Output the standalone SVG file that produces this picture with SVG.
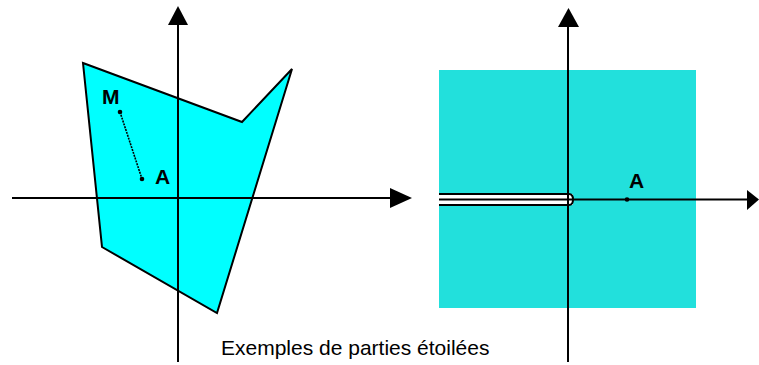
<svg xmlns="http://www.w3.org/2000/svg" width="759" height="365" viewBox="0 0 759 365">
<style>
.ax{stroke:#000;stroke-width:2;fill:none}
.arr{fill:#000}
.lbl{font-family:"Liberation Sans",Arial,sans-serif;font-weight:bold;font-size:21px;fill:#000}
.cap{font-family:"Liberation Sans",Arial,sans-serif;font-size:21px;fill:#000}
.pt{fill:#000}
</style>
<rect width="759" height="365" fill="#fff"/>
<g id="fig-left">
<polygon points="83,63 242,122 292,69 217,313 102,247" fill="#00ffff" stroke="#000" stroke-width="2" stroke-linejoin="miter"/>
<g class="connectors">
<line class="ax" x1="12" y1="198" x2="392" y2="198"/>
<line class="ax" x1="178" y1="23" x2="178" y2="362"/>
<polygon class="arr" points="390,188 412,198 390,208"/>
<polygon class="arr" points="168,25 178,6 188,25"/>
<line x1="120" y1="112" x2="142" y2="179" stroke="#000" stroke-width="1.6" stroke-dasharray="2,1"/>
</g>
<circle class="pt" cx="120" cy="112" r="2.3"/>
<circle class="pt" cx="142" cy="179" r="2.3"/>
<text class="lbl" x="102" y="104">M</text>
<text class="lbl" x="155" y="184">A</text>
</g>
<g id="fig-right">
<rect x="439" y="70" width="257" height="238" fill="#22e0dc"/>
<g class="connectors">
<rect x="439" y="194" width="134" height="11" fill="#fff"/>
<path d="M439,194 H569 Q573,194 573,199.5 Q573,205 569,205 H439" fill="none" stroke="#000" stroke-width="2"/>
<line class="ax" x1="439" y1="199.5" x2="748" y2="199.5"/>
<line class="ax" x1="568" y1="25" x2="568" y2="362"/>
<polygon class="arr" points="747,190 759,199.5 747,210"/>
<polygon class="arr" points="558,27 568.5,8 579,27"/>
</g>
<circle class="pt" cx="627" cy="199.5" r="2.3"/>
<text class="lbl" x="629" y="188">A</text>
</g>
<text class="cap" x="221" y="355">Exemples de parties étoilées</text>
</svg>
